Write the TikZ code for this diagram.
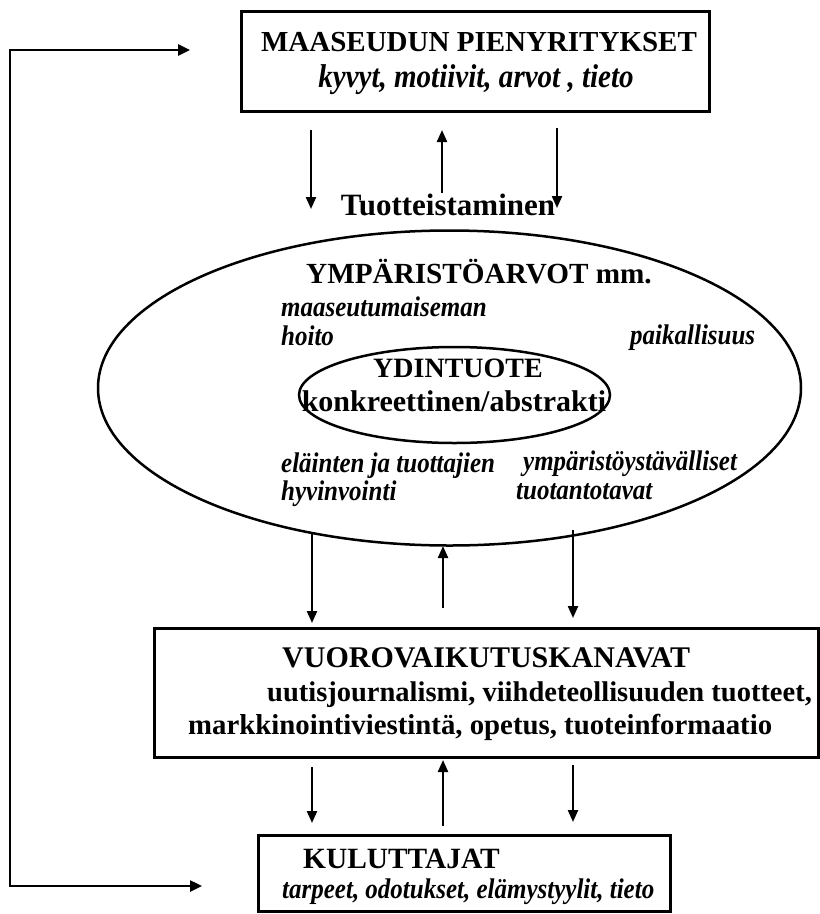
\documentclass[tikz,border=0pt]{standalone}
\usepackage{fontspec}
\setmainfont{Liberation Serif}
\newfontfamily\condit[FakeStretch=0.88]{Liberation Serif}
\usetikzlibrary{arrows.meta,shapes.geometric}
\newcommand{\bsz}[1]{\fontsize{#1}{#1}\selectfont\bfseries}
\newcommand{\isz}[1]{\condit\fontsize{#1}{#1}\selectfont\bfseries\itshape}
\begin{document}
\begin{tikzpicture}[x=1pt,y=-1pt,
 box/.style={draw, line width=3pt, inner sep=0pt},
 oval/.style={draw, ellipse, line width=2.5pt, inner sep=0pt},
 conn/.style={line width=2.2pt, -{Triangle[length=12pt,width=10pt]}},
 loopline/.style={line width=2.5pt, {Triangle[length=12pt,width=11pt]}-{Triangle[length=12pt,width=11pt]}},
 bt/.style={font=\bsz{29}, inner sep=0pt},
 it/.style={font=\isz{28.4}, inner sep=0pt},
]
\useasboundingbox (0,0) rectangle (820,914);
% boxes and ovals
\node[box, minimum width=468pt, minimum height=100pt] (top) at (475,61.5) {};
\node[box, minimum width=664pt, minimum height=129pt] (mid) at (486.5,693) {};
\node[box, minimum width=412pt, minimum height=76pt] (bot) at (464.5,873.5) {};
\node[oval, minimum width=703pt, minimum height=315pt] (outer) at (449.5,388) {};
\node[oval, minimum width=311pt, minimum height=96pt] (inner) at (454.5,395) {};
% texts
\node[bt, anchor=base] (t1) at (479,51) {MAASEUDUN PIENYRITYKSET};
\node[font=\isz{33}, inner sep=0pt, anchor=base] (t2) at (476,87) {kyvyt, motiivit, arvot , tieto};
\node[font=\bsz{31}, inner sep=0pt, anchor=base] (tuo) at (448,215) {Tuotteistaminen};
\node[font=\bsz{29.2}, inner sep=0pt, anchor=base] (ymp) at (479,283) {YMPÄRISTÖARVOT mm.};
\node[it, anchor=base west] (e1) at (281,316) {maaseutumaiseman};
\node[it, anchor=base west] (e2) at (281,345) {hoito};
\node[it, anchor=base west] (e3) at (630,344) {paikallisuus};
\node[font=\bsz{28}, inner sep=0pt, anchor=base] (yd) at (458,377) {YDINTUOTE};
\node[font=\bsz{30}, inner sep=0pt, anchor=base] (ko) at (454,411) {konkreettinen/abstrakti};
\node[it, anchor=base west] (e4) at (281,472) {eläinten ja tuottajien};
\node[it, anchor=base west] (e5) at (281,500) {hyvinvointi};
\node[it, anchor=base west] (e6) at (523,470) {ympäristöystävälliset};
\node[it, anchor=base west] (e7) at (516,499) {tuotantotavat};
\node[font=\bsz{30}, inner sep=0pt, anchor=base west] (v1) at (282,667) {VUOROVAIKUTUSKANAVAT};
\node[font=\bsz{28.5}, inner sep=0pt, anchor=base west] (v2) at (267,701) {uutisjournalismi, viihdeteollisuuden tuotteet,};
\node[font=\bsz{28.8}, inner sep=0pt, anchor=base west] (v3) at (188,734) {markkinointiviestintä, opetus, tuoteinformaatio};
\node[font=\bsz{29.4}, inner sep=0pt, anchor=base west] (k1) at (303,868) {KULUTTAJAT};
\node[it, anchor=base west] (k2) at (282,898) {tarpeet, odotukset, elämystyylit, tieto};
% arrow end points
\coordinate (a1s) at (311,130); \coordinate (a1e) at (311,209);
\coordinate (a2s) at (442,193); \coordinate (a2e) at (442,130);
\coordinate (a3s) at (557,128); \coordinate (a3e) at (557,208);
\coordinate (b1s) at (312,532); \coordinate (b1e) at (312,623);
\coordinate (b2s) at (443,608); \coordinate (b2e) at (443,546);
\coordinate (b3s) at (573,530); \coordinate (b3e) at (573,618);
\coordinate (c1s) at (312,767); \coordinate (c1e) at (312,823);
\coordinate (c2s) at (443,826); \coordinate (c2e) at (443,760);
\coordinate (c3s) at (573,765); \coordinate (c3e) at (573,822);
\draw[conn] (a1s) -- (a1e);
\draw[conn] (a2s) -- (a2e);
\draw[conn] (a3s) -- (a3e);
\draw[conn] (b1s) -- (b1e);
\draw[conn] (b2s) -- (b2e);
\draw[conn] (b3s) -- (b3e);
\draw[conn] (c1s) -- (c1e);
\draw[conn] (c2s) -- (c2e);
\draw[conn] (c3s) -- (c3e);
% feedback loop
\coordinate (fT) at (190,50);
\coordinate (fTL) at (10,50);
\coordinate (fBL) at (10,886);
\coordinate (fB) at (202,886);
\draw[loopline] (fT) -- (fTL) -- (fBL) -- (fB);
\end{tikzpicture}
\end{document}
